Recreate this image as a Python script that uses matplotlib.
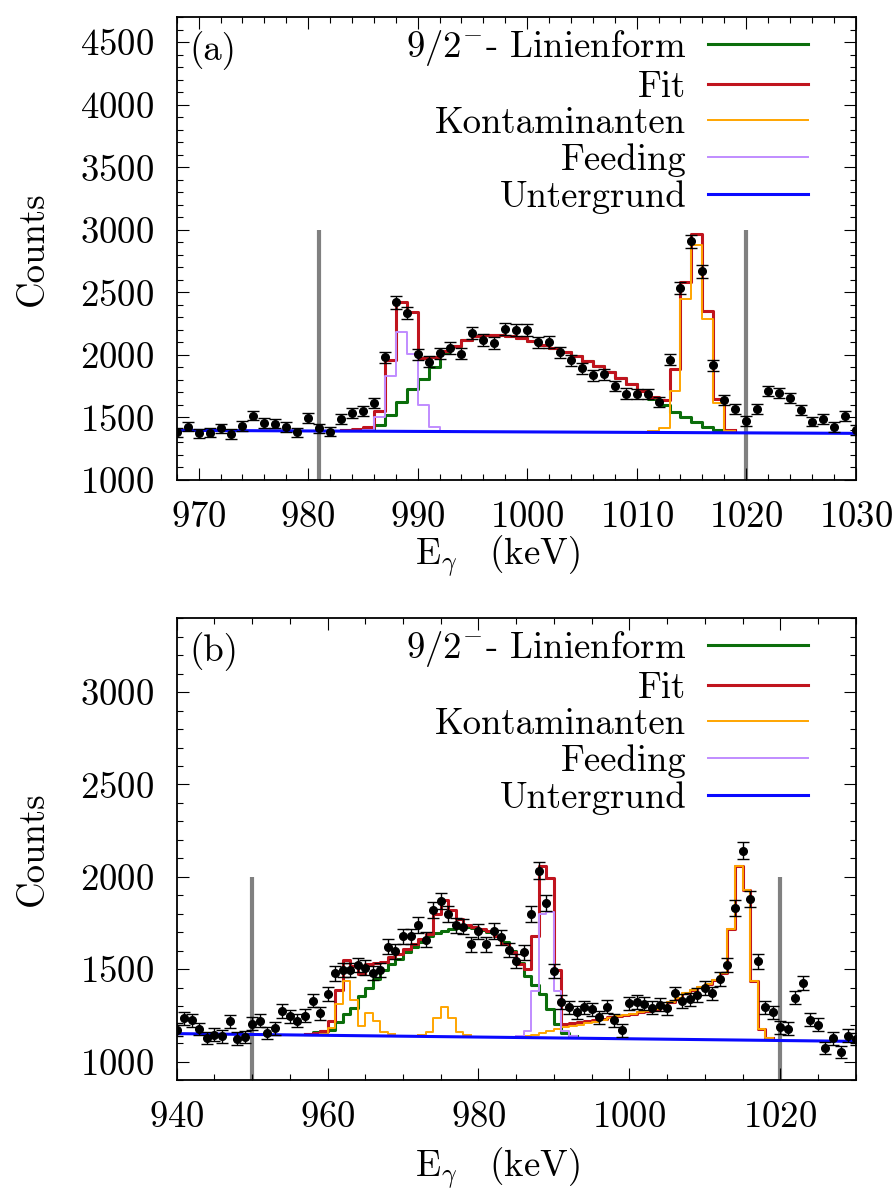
import matplotlib.pyplot as plt
import numpy as np
from matplotlib.ticker import MultipleLocator

plt.rcParams['font.family'] = ['cmr10', 'DejaVu Serif']
plt.rcParams['mathtext.fontset'] = 'cm'
plt.rcParams['axes.formatter.use_mathtext'] = True
plt.rcParams['font.size'] = 26.5

# ---------------- panel (a) ----------------
energy_a = np.arange(968, 1031)
counts_a = [1382, 1427, 1374, 1379, 1414, 1368, 1432, 1515, 1457, 1451, 1425, 1382,
            1494, 1414, 1387, 1486, 1539, 1550, 1614, 1983, 2420, 2335,
            2004, 1945, 2012, 2055, 2009, 2175, 2119, 2097, 2207, 2201, 2201, 2100,
            2105, 2020, 1956, 1895, 1838, 1846, 1750, 1691, 1686, 1689, 1627,
            1961, 2535, 2909, 2669, 1916, 1641, 1571, 1470, 1566, 1710, 1697, 1657,
            1563, 1467, 1486, 1425, 1513, 1400]
bg_a = [1397, 1373]
lineshape_a_start = 983
lineshape_a = [1396, 1398, 1405, 1440, 1520, 1625, 1726, 1806, 1903, 2025, 2068, 2121,
               2148, 2156, 2160, 2150, 2135, 2113, 2081, 2055, 2025, 1988, 1948, 1908,
               1860, 1815, 1769, 1715, 1650, 1601, 1547, 1507, 1467, 1427, 1400, 1390]
fit_a_start = 983
fit_a = [1400, 1406, 1427, 1555, 1961, 2420, 2343, 1975, 1985, 2030, 2068, 2121,
         2148, 2156, 2160, 2150, 2135, 2113, 2081, 2055, 2025, 1988, 1948, 1908,
         1860, 1815, 1769, 1715, 1665, 1641, 1887, 2583, 2968, 2348, 1645, 1400]
contam_a_start = 1011
contam_a = [1392, 1414, 1715, 2450, 2877, 2290, 1619, 1395]
feeding_a_start = 985
feeding_a = [1400, 1507, 1833, 2183, 2009, 1601, 1427, 1394]
limits_a = [981, 1020]
limit_top_a = 3000

# ---------------- panel (b) ----------------
energy_b = np.arange(940, 1031)
counts_b = [1173, 1233, 1224, 1176, 1127, 1145, 1136, 1218, 1124, 1133, 1205, 1222,
            1155, 1180, 1273, 1244, 1220, 1249, 1329, 1260, 1367, 1477, 1495, 1496,
            1522, 1509, 1478, 1495, 1622, 1597,
            1678, 1678, 1740, 1660, 1822, 1869, 1800, 1737, 1731, 1636, 1704, 1636,
            1707, 1673, 1604, 1545, 1591, 1797, 2033, 1860, 1489, 1322, 1294, 1267,
            1294, 1282, 1240, 1296, 1224, 1169, 1315, 1322,
            1313, 1291, 1307, 1287, 1369, 1327, 1336, 1360, 1400, 1369, 1445, 1524,
            1831, 2142, 1880, 1542, 1294, 1267, 1185, 1178, 1346, 1427, 1227, 1200,
            1071, 1125, 1054, 1140, 1122]
bg_b = [1151, 1109]
lineshape_b_start = 957
lineshape_b = [1150, 1160, 1163, 1173, 1215, 1255, 1291, 1355, 1400, 1449, 1496, 1527,
               1555, 1594, 1622, 1649, 1678, 1696, 1709, 1718, 1725, 1727, 1722, 1714,
               1700, 1678, 1645, 1600, 1536, 1464, 1413, 1367, 1282, 1205, 1155, 1140]
fit_b_start = 957
fit_b = [1150, 1152, 1163, 1218, 1386, 1551, 1518, 1473, 1527, 1533, 1540, 1564,
         1580, 1608, 1636, 1664, 1691, 1800, 1873, 1818, 1773, 1740, 1727, 1718,
         1704, 1682, 1636, 1591, 1527, 1500, 1682, 2058, 1991, 1496, 1205, 1209,
         1212, 1218, 1225, 1232, 1240, 1246, 1252, 1258, 1267, 1273, 1286, 1300,
         1322, 1345, 1369, 1385, 1405, 1420, 1440, 1478, 1718, 2060, 1927, 1436,
         1178, 1127]
contam_b_start = 959
contam_b = [1150, 1182, 1313, 1436, 1331, 1190, 1260, 1218, 1158, 1148,
            None, None, None,
            1146, 1160, 1233, 1294, 1233, 1160, 1143,
            None, None, None, None, None, None,
            1137, 1140, 1145, 1156, 1167, 1178, 1185, 1192, 1200, 1207, 1215, 1225,
            1236, 1244, 1252, 1258, 1267, 1273, 1286, 1300, 1322, 1345, 1369, 1385,
            1405, 1420, 1440, 1478, 1718, 2060, 1927, 1436, 1178, 1127]
feeding_b_start = 985
feeding_b = [1137, 1164, 1382, 1800, 1810, 1382, 1164, 1136]
limits_b = [950, 1020]
limit_top_b = 2000

labels = [r'$9/2^{-}$- Linienform', 'Fit', 'Kontaminanten', 'Feeding', 'Untergrund']
c_green = '#0b6e0b'
c_red = '#c0141e'
c_orange = '#ffa500'
c_purple = '#c08cff'
c_blue = '#0a0aff'


def draw_steps(ax, start, values, **kw):
    vals = np.array([np.nan if v is None else v for v in values], dtype=float)
    edges = start + np.arange(len(vals) + 1)
    ys = np.append(vals, vals[-1])
    return ax.step(edges, ys, where='post', **kw)[0]


def draw_panel(ax, tag, energy, counts, bg, comps, limits, limit_top,
               xlim, ylim, xmaj, xmin, ymin_step, xlabel_y):
    ax.vlines(limits, ylim[0], limit_top, color='#808080', lw=3, zorder=1)
    (ls_start, ls_vals), (fit_start, fit_vals), (ct_start, ct_vals), (fd_start, fd_vals) = comps
    h_green = draw_steps(ax, ls_start, ls_vals, color=c_green, lw=2.2, zorder=2)
    h_red = draw_steps(ax, fit_start, fit_vals, color=c_red, lw=2.2, zorder=3)
    h_orange = draw_steps(ax, ct_start, ct_vals, color=c_orange, lw=1.4, zorder=4)
    h_purple = draw_steps(ax, fd_start, fd_vals, color=c_purple, lw=1.4, zorder=4)
    h_blue, = ax.plot(xlim, bg, color=c_blue, lw=2.2, zorder=5)
    counts = np.array(counts, dtype=float)
    ax.errorbar(energy, counts, yerr=np.sqrt(counts), fmt='o', color='black',
                ms=5.5, elinewidth=1, capsize=4.5, capthick=1, zorder=6)

    ax.set_xlim(xlim)
    ax.set_ylim(ylim)
    ax.xaxis.set_major_locator(MultipleLocator(xmaj))
    ax.xaxis.set_minor_locator(MultipleLocator(xmin))
    ax.yaxis.set_major_locator(MultipleLocator(500))
    ax.yaxis.set_minor_locator(MultipleLocator(ymin_step))
    ax.tick_params(which='both', direction='in', top=True, right=True, width=0.8)
    ax.tick_params(which='major', length=8.5)
    ax.tick_params(which='minor', length=4.5)
    ax.tick_params(axis='x', which='major', pad=15)
    ax.tick_params(axis='y', which='major', pad=16)
    for sp in ax.spines.values():
        sp.set_linewidth(1.3)
    ax.set_xlabel(r'E$_\gamma\ \ \ $(keV)', va='center')
    ax.xaxis.set_label_coords(0.472, xlabel_y)
    ax.set_ylabel('Counts', labelpad=22)
    ax.text(0.018, 0.97, tag, transform=ax.transAxes, ha='left', va='top')

    ax.legend([h_green, h_red, h_orange, h_purple, h_blue], labels,
              loc='upper right', bbox_to_anchor=(0.943, 0.997), frameon=False,
              markerfirst=False, handlelength=2.7, handletextpad=0.6,
              labelspacing=0.08, borderaxespad=0.0, borderpad=0.25)


fig = plt.figure(figsize=(8.93, 11.89), dpi=100)
ax_a = fig.add_axes([0.1979, 0.5963, 0.7603, 0.3891])
ax_b = fig.add_axes([0.1979, 0.0917, 0.7603, 0.3883])

draw_panel(ax_a, '(a)', energy_a, counts_a, bg_a,
           [(lineshape_a_start, lineshape_a), (fit_a_start, fit_a),
            (contam_a_start, contam_a), (feeding_a_start, feeding_a)],
           limits_a, limit_top_a, (968, 1030), (1000, 4700), 10, 2, 100, -0.165)
draw_panel(ax_b, '(b)', energy_b, counts_b, bg_b,
           [(lineshape_b_start, lineshape_b), (fit_b_start, fit_b),
            (contam_b_start, contam_b), (feeding_b_start, feeding_b)],
           limits_b, limit_top_b, (940, 1030), (900, 3400), 20, 5, 100, -0.19)

fig.savefig('out.png', dpi=100)
